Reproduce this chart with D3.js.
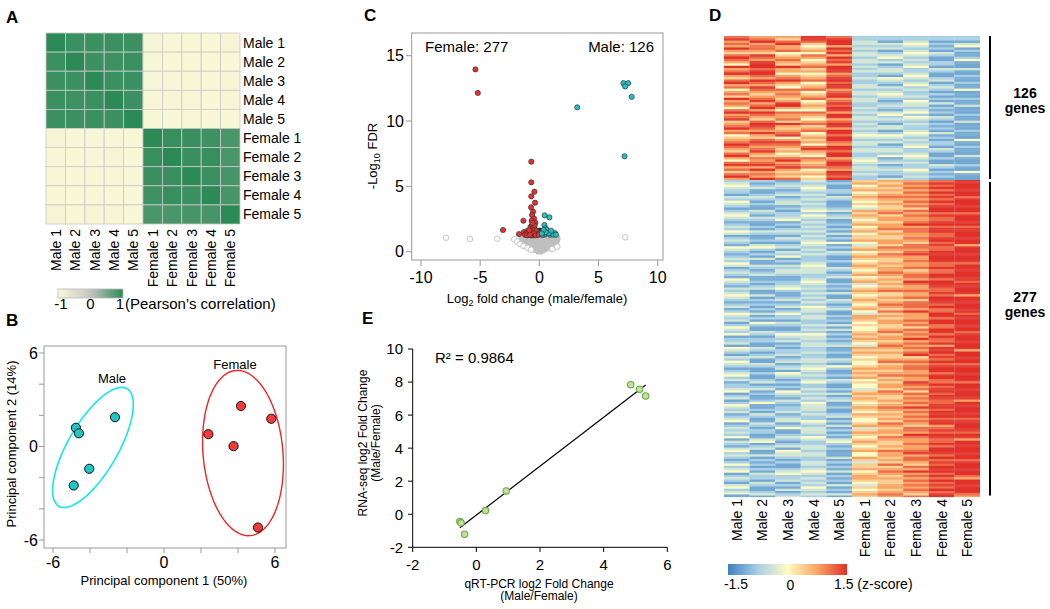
<!DOCTYPE html>
<html><head><meta charset="utf-8">
<script src="https://cdn.jsdelivr.net/npm/d3@7"></script>
<style>
body{margin:0;background:#fff;}
svg{display:block;font-family:"Liberation Sans",Arial,sans-serif;}
</style></head>
<body>
<svg id="fig" width="1050" height="609"></svg>
<script>
// ---------------- DATA ----------------
const samples = ["Male 1","Male 2","Male 3","Male 4","Male 5","Female 1","Female 2","Female 3","Female 4","Female 5"];

// Panel A: Pearson correlation matrix
const corr = [
 [1.00,0.90,0.90,0.90,0.89,-0.93,-0.95,-0.96,-0.97,-0.90],
 [0.90,1.00,0.89,0.88,0.90,-0.96,-0.96,-0.97,-0.97,-0.96],
 [0.90,0.89,1.00,0.90,0.90,-0.94,-0.95,-0.96,-0.97,-0.92],
 [0.90,0.88,0.90,1.00,0.89,-0.94,-0.93,-0.95,-0.96,-0.92],
 [0.89,0.90,0.90,0.89,1.00,-0.97,-0.97,-0.97,-0.97,-0.96],
 [-0.93,-0.96,-0.94,-0.94,-0.97,1.00,0.92,0.91,0.88,0.80],
 [-0.95,-0.96,-0.95,-0.93,-0.97,0.92,1.00,0.91,0.92,0.80],
 [-0.96,-0.97,-0.96,-0.95,-0.97,0.91,0.91,1.00,0.90,0.82],
 [-0.97,-0.97,-0.97,-0.96,-0.97,0.88,0.92,0.90,1.00,0.82],
 [-0.90,-0.96,-0.92,-0.92,-0.96,0.80,0.80,0.82,0.82,1.00]
];
const corrTicks = [-1,0,1];

// Panel B: PCA
const pcaMaleX = [-4.76,-4.60,-2.65,-4.04,-4.88];
const pcaMaleY = [1.20,0.85,1.88,-1.43,-2.50];
const pcaFemaleX = [2.40,4.16,5.80,3.76,5.08];
const pcaFemaleY = [0.79,2.60,1.78,0.02,-5.20];
// ellipse: centre, axis vectors (data units)
const maleEllipse = {cx:-3.84, cy:-0.06, ax:1.84, ay:3.77, bx:1.17, by:-0.80};
const femaleEllipse = {cx:4.27, cy:-0.42, ax:-0.39, ay:5.30, bx:2.15, by:0.22};
const pcaTicks = [-6,-4,-2,0,2,4,6];
const pcaLabelTicks = [-6,0,6];

// Panel C: volcano
const volcanoRed = [[-5.4,13.95],[-5.2,12.15],[-3.07,1.66],[-1.72,1.35],[-1.35,2.37],[-0.68,6.89],[-0.68,5.31],[-0.42,4.59],[-0.68,4.24],[-0.36,3.75],[-0.70,3.40],[-0.53,3.06],[-0.62,2.81],[-0.45,2.55],[-0.65,2.37],[-0.34,2.22],
 [-1.3,1.5],[-1.15,1.35],[-1.0,1.6],[-0.9,1.3],[-0.8,1.45],[-0.7,1.7],[-0.6,1.35],[-0.5,1.55],[-0.4,1.3],[-0.3,1.45],[-0.2,1.3],[-0.1,1.5],[-1.2,1.3],[-0.95,1.45],[-0.75,1.9],[-0.6,2.05],[-0.5,1.85],[-0.4,2.0],[-0.65,1.55],[-0.55,1.25],[-0.85,1.65],[-1.05,1.25],[-0.35,1.7],[-0.25,1.6],[-0.15,1.35],[-0.7,1.25],[-0.45,1.4],[-0.58,2.2],[-0.8,1.3],[-0.3,1.25],[-0.05,1.3]];
const volcanoCyan = [[3.2,11.05],[7.1,12.9],[7.5,12.9],[7.25,12.65],[7.8,11.85],[7.2,7.3],[0.45,2.78],[0.85,2.63],[0.43,2.04],[0.51,1.79],[0.3,1.5],[0.5,1.35],[0.7,1.55],[0.9,1.3],[1.1,1.45],[1.33,1.41],[1.2,1.3],[0.6,1.7],[0.4,1.3],[0.8,1.4],[1.0,1.6],[0.25,1.3],[0.55,1.5],[1.4,1.3],[0.35,1.65],[0.2,1.4]];
const volcanoBlack = [[0.0,1.38],[0.12,1.52],[-0.12,1.45],[0.22,1.32],[0.05,1.62]];
const volcanoGray = [
 [-0.1,0],[0.15,0],
 [-0.5,0.12],[-0.2,0.12],[0.1,0.12],[0.4,0.12],
 [-0.9,0.25],[-0.6,0.25],[-0.3,0.25],[0,0.25],[0.3,0.25],[0.6,0.25],[0.9,0.25],
 [-1.15,0.4],[-0.85,0.4],[-0.55,0.4],[-0.25,0.4],[0.05,0.4],[0.35,0.4],[0.65,0.4],[0.95,0.4],[1.2,0.4],
 [-1.3,0.55],[-1.0,0.55],[-0.7,0.55],[-0.4,0.55],[-0.1,0.55],[0.2,0.55],[0.5,0.55],[0.8,0.55],[1.1,0.55],[1.35,0.55],
 [-1.4,0.7],[-1.1,0.7],[-0.8,0.7],[-0.5,0.7],[-0.2,0.7],[0.1,0.7],[0.4,0.7],[0.7,0.7],[1.0,0.7],[1.3,0.7],[1.45,0.7],
 [-1.45,0.85],[-1.15,0.85],[-0.85,0.85],[-0.55,0.85],[-0.25,0.85],[0.05,0.85],[0.35,0.85],[0.65,0.85],[0.95,0.85],[1.25,0.85],[1.5,0.85],
 [-1.5,1.0],[-1.2,1.0],[-0.9,1.0],[-0.6,1.0],[-0.3,1.0],[0,1.0],[0.3,1.0],[0.6,1.0],[0.9,1.0],[1.2,1.0],[1.55,1.0],
 [-1.45,1.15],[-1.15,1.15],[-0.85,1.15],[-0.55,1.15],[-0.25,1.15],[0.05,1.15],[0.35,1.15],[0.65,1.15],[0.95,1.15],[1.25,1.15],[1.5,1.15],
 [-1.3,1.25],[-1.0,1.25],[-0.7,1.25],[-0.4,1.25],[-0.1,1.25],[0.2,1.25],[0.5,1.25],[0.8,1.25],[1.1,1.25],[1.3,1.25]];
const volcanoOpen = [[-7.89,1.07],[-5.86,0.97],[-3.55,1.0],[-2.14,0.95],[-1.86,0.77],[-1.63,0.59],[-1.35,0.44],[-1.0,0.3],[1.52,0.38],[7.25,1.1],[-0.7,0.15],[1.1,0.2]];
const volcanoXTicks = [-10,-5,0,5,10];
const volcanoYTicks = [0,5,10,15];

// Panel D: z-score heatmap, digit d -> z = (d-4)*0.375
const maleGeneCount = 126, femaleGeneCount = 277;
const heatTop = [
"7788667766 8866557788 7766448866 7788665577 8866774466 7755886677 6644778866 7788556677 8866774455 6677887766 5577886644 7788667755 778866",
"6677886677 7766558877 6688888877 8888776688 7766887766 5566778866 7788668877 6655778888 7766886655 7788776677 8866557766 7788668866 776688",
"6655778866 6677445566 7766558866 6644667788 6655447766 7766556688 8866447766 6677558866 5566778844 6688776655 6644557788 6677886655 665577",
"8888775544 5566447766 4455667755 6644556677 4455667744 5566774455 6655447766 5544667755 6677445566 5566447788 6655447766 5566774455 664455",
"7788888866 8877886688 7788668888 8866778888 7788886677 8888667788 7788886688 8866778888 6688887788 8877668888 7788886677 8888776688 887788",
"2222333322 3322333322 3333223322 3322223322 2233332233 3322333322 2233223322 3333223322 3322334433 2233332233 3322223344 3322333322 332222",
"2222113322 3311223344 2233112233 3322114433 2211332233 4433221122 3322113344 2233221133 3311224433 2233112233 3322441122 3311223322 221133",
"2222334433 2233443322 3322334422 2233443322 3344223322 2233224433 3322334422 4433223322 2233443322 3322334422 2233443322 3322224433 223322",
"2222112211 2211332211 1122221133 2211112233 1122332211 2211221133 1122112211 3322112211 2211331122 1122221133 2211112211 1133221122 112211",
"2222113344 1122111122 4411111133 1111221111 2211114411 1111221111 3311111122 1111331111 1122111111 4411112211 1111331111 1122111144 111111"
];
const heatBottom = [
"2233443322 2211332244 3322112233 4433221122 3322443311 2233221144 3322112233 2244331122 3322114433 2211332233 4433221122 3311224433 2233112244 3322441122 2233114433 2211332244 3322112233 4422331122 2233441122 3311224433 2233112233 4411223322 3322441133 2211334422 3322112244 2233441122 3322113344 2233411",
"2211223311 1122332211 2211113322 1133221111 2211332211 1122113344 2211221133 1111332211 2233111122 1122331111 3311221122 1122113311 2211442211 1133221122 2211113322 1122331111 3322111122 1111223311 2233112211 1122441111 2211332211 1133221122 2211113344 1122331111 3311221122 1122113322 2211332211 1122331",
"1122332211 2233112233 3311221122 2233441122 1122332211 3322112233 1133224411 2211332233 3322111122 2233442211 1122331122 3311224422 2211332211 1122443322 3311221122 2233112233 1122331144 3322112211 2211443322 1133221122 2233112233 3311224411 1122332211 2233114433 3322112211 1122334422 2233112211 3311223",
"3322334433 2233223322 3322334422 4433223322 3322332233 2233443322 3322332222 2233443333 3322223344 3322332233 2233223322 4433332233 3322223322 3322443333 2233332222 3322223333 2233443322 3322334422 2233223322 3322443333 3322332222 4433223333 3322443322 2233332233 3322223333 2233443322 3322332244 3322332",
"1122111122 2211332211 1111223311 2233111122 1122113311 2211441122 1133221111 2211113322 1122331111 2211221133 1111332211 2233111122 1122113311 3311221122 1122331111 2211113322 1144221111 2211332211 1122113311 2233111122 1111223311 2211331122 1122113344 2211221111 1133112211 2211331122 1122113311 2211331",
"5566445566 4455665544 5544336655 6655445566 4455664455 5566443355 6644556655 4455665544 5566445566 3344556655 4455665544 5566443366 6655445544 4455665566 5544336655 6655445544 4455665566 5566445544 4433556655 6655445566 5544665544 4455663355 6655445566 5544556644 4466553355 5566445566 6655443355 4455665",
"6655665566 5566776655 6655556677 5566665566 6677556655 5566665577 6655776655 5566556666 7766556655 6655667755 5566556677 6655775566 5566665555 6677556666 5566776655 6655556677 5566665566 7755665566 6655776655 5566556677 6655665566 5577665566 6655776655 5566557766 6655665577 5566776655 6655556666 5566776",
"6677667766 7766776677 6677557766 7766667788 6677776666 7766557777 6677886666 7766667755 6677776688 7766667766 6677557777 7766886666 6677667755 7766776688 6677667766 7788556677 6677776666 7766668877 6677557766 7766776688 6677667766 7766557777 6688776666 7766667788 6677776655 7766886677 6677667766 7766557",
"7788778877 8877887788 7788888877 8877778888 7788887777 8888778877 7788888888 8877778877 7788887788 8888777788 7788888877 8877778888 7788887777 8888778877 7788668888 8877887788 7788888877 8888777788 7788887788 8877778888 7788888877 8888667788 7788887777 8877888888 7788778877 8888887788 7788778877 8877888",
"8888888888 8888778888 8888888877 8888888888 7788888888 8888886688 8888888888 8877888888 8888888877 8888888888 6688888888 8888887788 8888888888 8877888888 8888888866 8888888888 7788888888 8888887788 8888888888 8866888888 8888888877 8888888888 7788886688 8888888888 8888778888 8888888877 6688888888 8888776"
];
const zTicks = [-1.5,0,1.5];

// Panel E: validation
const qpcrFC = [-0.52,-0.48,-0.37,0.29,0.94,4.85,5.13,5.32];
const rnaseqFC = [-0.44,-0.52,-1.21,0.22,1.41,7.84,7.57,7.16];
const eXTicks = [-2,0,2,4,6];
const eYTicks = [-2,0,2,4,6,8,10];

// ---------------- DRAW ----------------
const svg = d3.select("#fig");
const defs = svg.append("defs");

function panelLetter(t,x,y){svg.append("text").attr("x",x).attr("y",y).attr("font-size",17).attr("font-weight","bold").text(t);}
panelLetter("A",6,23); panelLetter("B",6,326); panelLetter("C",364,21); panelLetter("D",709,21); panelLetter("E",362,324);

// ===== Panel A =====
(function(){
 const x = d3.scaleBand().domain(samples).range([46,240]);
 const y = d3.scaleBand().domain(samples).range([33,224]);
 const col = d3.scaleLinear().domain([-1,0,1]).range(["#fafad8","#c4c4c4","#2b8a55"]);
 const g = svg.append("g");
 const cells = [];
 corr.forEach((row,i)=>row.forEach((v,j)=>cells.push({r:samples[i],c:samples[j],v})));
 g.selectAll("rect").data(cells).join("rect")
  .attr("x",d=>x(d.c)).attr("y",d=>y(d.r)).attr("width",x.bandwidth()).attr("height",y.bandwidth())
  .attr("fill",d=>col(d.v)).attr("stroke","#c9c9c9").attr("stroke-width",0.8);
 g.selectAll("text.rl").data(samples).join("text").attr("class","rl")
  .attr("x",243).attr("y",d=>y(d)+y.bandwidth()/2).attr("dy","0.36em").attr("font-size",14).text(d=>d);
 g.selectAll("text.cl").data(samples).join("text").attr("class","cl")
  .attr("transform",d=>`translate(${x(d)+x.bandwidth()/2},229) rotate(-90)`)
  .attr("dy","0.36em").attr("text-anchor","end").attr("font-size",14).text(d=>d);
 const lg = defs.append("linearGradient").attr("id","gA");
 d3.range(0,1.001,0.1).forEach(t=>lg.append("stop").attr("offset",t).attr("stop-color",col(-1+2*t)));
 const cb = d3.scaleLinear().domain([-1,1]).range([61,120]);
 g.append("rect").attr("x",58).attr("y",289).attr("width",65).attr("height",9).attr("fill","url(#gA)").attr("stroke","#bbb").attr("stroke-width",0.8);
 g.selectAll("text.ct").data(corrTicks).join("text").attr("class","ct")
  .attr("x",d=>cb(d)).attr("y",309).attr("text-anchor","middle").attr("font-size",15).text(d=>d);
 g.append("text").attr("x",125).attr("y",309).attr("font-size",15).text("(Pearson’s correlation)");
})();

// ===== Panel B =====
(function(){
 const x = d3.scaleLinear().domain([-6,6]).range([53,275]);
 const y = d3.scaleLinear().domain([-6,6]).range([540,353]);
 const g = svg.append("g");
 g.append("rect").attr("x",44).attr("y",346).attr("width",242).attr("height",202).attr("fill","none").attr("stroke","#999").attr("stroke-width",1);
 g.selectAll("line.xt").data(pcaTicks).join("line").attr("class","xt")
  .attr("x1",d=>x(d)).attr("x2",d=>x(d)).attr("y1",548).attr("y2",553).attr("stroke","#999");
 g.selectAll("line.yt").data(pcaTicks).join("line").attr("class","yt")
  .attr("y1",d=>y(d)).attr("y2",d=>y(d)).attr("x1",44).attr("x2",39).attr("stroke","#999");
 g.selectAll("text.xl").data(pcaLabelTicks).join("text").attr("class","xl")
  .attr("x",d=>x(d)).attr("y",568).attr("text-anchor","middle").attr("font-size",16).text(d=>d);
 g.selectAll("text.yl").data(pcaLabelTicks).join("text").attr("class","yl")
  .attr("x",38).attr("y",d=>y(d)).attr("dy","0.36em").attr("text-anchor","end").attr("font-size",16).text(d=>d);
 g.append("text").attr("x",164).attr("y",585).attr("text-anchor","middle").attr("font-size",13).text("Principal component 1 (50%)");
 g.append("text").attr("transform","translate(16,444) rotate(-90)").attr("text-anchor","middle").attr("font-size",13).text("Principal component 2 (14%)");
 function ell(e){
  const pts = d3.range(0,2*Math.PI+0.01,Math.PI/60).map(t=>[x(e.cx+e.ax*Math.cos(t)+e.bx*Math.sin(t)), y(e.cy+e.ay*Math.cos(t)+e.by*Math.sin(t))]);
  return d3.line()(pts)+"Z";
 }
 g.append("path").attr("d",ell(maleEllipse)).attr("fill","none").attr("stroke","#12e6ee").attr("stroke-width",1.6);
 g.append("path").attr("d",ell(femaleEllipse)).attr("fill","none").attr("stroke","#f02424").attr("stroke-width",1.4);
 g.selectAll("circle.m").data(pcaMaleX).join("circle").attr("class","m")
  .attr("cx",d=>x(d)).attr("cy",(d,i)=>y(pcaMaleY[i])).attr("r",4.6).attr("fill","#1fc6c6").attr("stroke","#111").attr("stroke-width",1);
 g.selectAll("circle.f").data(pcaFemaleX).join("circle").attr("class","f")
  .attr("cx",d=>x(d)).attr("cy",(d,i)=>y(pcaFemaleY[i])).attr("r",4.6).attr("fill","#f23a3a").attr("stroke","#111").attr("stroke-width",1);
 g.append("text").attr("x",112).attr("y",383).attr("text-anchor","middle").attr("font-size",13).text("Male");
 g.append("text").attr("x",235).attr("y",369).attr("text-anchor","middle").attr("font-size",13).text("Female");
})();

// ===== Panel C =====
(function(){
 const x = d3.scaleLinear().domain([-10,10]).range([421,657.7]);
 const y = d3.scaleLinear().domain([0,15]).range([251.7,55.7]);
 const g = svg.append("g");
 g.append("rect").attr("x",411.7).attr("y",33).attr("width",251.3).attr("height",227).attr("fill","none").attr("stroke","#999").attr("stroke-width",1);
 g.selectAll("line.xt").data(volcanoXTicks).join("line").attr("class","xt")
  .attr("x1",d=>x(d)).attr("x2",d=>x(d)).attr("y1",260).attr("y2",266).attr("stroke","#999");
 g.selectAll("line.yt").data(volcanoYTicks).join("line").attr("class","yt")
  .attr("y1",d=>y(d)).attr("y2",d=>y(d)).attr("x1",411.7).attr("x2",406).attr("stroke","#999");
 g.selectAll("text.xl").data(volcanoXTicks).join("text").attr("class","xl")
  .attr("x",d=>x(d)).attr("y",283).attr("text-anchor","middle").attr("font-size",16).text(d=>d);
 g.selectAll("text.yl").data(volcanoYTicks).join("text").attr("class","yl")
  .attr("x",404).attr("y",d=>y(d)).attr("dy","0.36em").attr("text-anchor","end").attr("font-size",16).text(d=>d);
 const xl = g.append("text").attr("x",537).attr("y",303).attr("text-anchor","middle").attr("font-size",13);
 xl.append("tspan").text("Log");
 xl.append("tspan").attr("font-size",9).attr("dy",3).text("2");
 xl.append("tspan").attr("dy",-3).text(" fold change (male/female)");
 const yl = g.append("text").attr("transform","translate(377,156) rotate(-90)").attr("text-anchor","middle").attr("font-size",13);
 yl.append("tspan").text("-Log");
 yl.append("tspan").attr("font-size",9).attr("dy",3).text("10");
 yl.append("tspan").attr("dy",-3).text(" FDR");
 g.append("text").attr("x",425).attr("y",52).attr("font-size",15).text("Female: 277");
 g.append("text").attr("x",654).attr("y",52).attr("text-anchor","end").attr("font-size",15).text("Male: 126");
 g.selectAll("circle.gr").data(volcanoGray).join("circle").attr("class","gr")
  .attr("cx",d=>x(d[0])).attr("cy",d=>y(d[1])).attr("r",2.6).attr("fill","#c2c2c2").attr("stroke","#bbbbbb").attr("stroke-width",0.6);
 g.selectAll("circle.op").data(volcanoOpen).join("circle").attr("class","op")
  .attr("cx",d=>x(d[0])).attr("cy",d=>y(d[1])).attr("r",2.8).attr("fill","#fff").attr("stroke","#c6c6c6").attr("stroke-width",1);
 const pt = (cls,data,fill)=>g.selectAll("circle."+cls).data(data).join("circle").attr("class",cls)
  .attr("cx",d=>x(d[0])).attr("cy",d=>y(d[1])).attr("r",2.6).attr("fill",fill).attr("stroke","#333").attr("stroke-width",0.7);
 pt("bk",volcanoBlack,"#111");
 pt("rd",volcanoRed,"#e8302e");
 pt("cy",volcanoCyan,"#20c2c4");
})();

// ===== Panel D =====
(function(){
 const nRows = maleGeneCount + femaleGeneCount;
 const x = d3.scaleBand().domain(samples).range([724,980]);
 const y = d3.scaleBand().domain(d3.range(nRows)).range([36,496.7]);
 const col = d3.scaleLinear().domain([-1.5,-0.75,0,0.75,1.5]).range(["#3f80c1","#a7cfe4","#fcfcc4","#f9a463","#e1312a"]).clamp(true);
 const cells = [];
 samples.forEach((s,j)=>{
  const top = heatTop[j].replace(/\s/g,""), bot = heatBottom[j].replace(/\s/g,"");
  for(let i=0;i<nRows;i++){
   const ch = i<maleGeneCount ? (top[i]||top[top.length-1]) : (bot[i-maleGeneCount]||bot[bot.length-1]);
   cells.push({s,i,z:(+ch-4)*0.375});
  }
 });
 const g = svg.append("g");
 g.selectAll("rect").data(cells).join("rect")
  .attr("x",d=>x(d.s)).attr("y",d=>y(d.i)).attr("width",x.bandwidth()).attr("height",y.bandwidth()+0.4)
  .attr("fill",d=>col(d.z));
 g.selectAll("text.cl").data(samples).join("text").attr("class","cl")
  .attr("transform",d=>`translate(${x(d)+x.bandwidth()/2},499) rotate(-90)`)
  .attr("dy","0.36em").attr("text-anchor","end").attr("font-size",14).text(d=>d);
 g.append("line").attr("x1",990).attr("x2",990).attr("y1",y(0)).attr("y2",y(maleGeneCount-1)+y.bandwidth()-1).attr("stroke","#000").attr("stroke-width",2);
 g.append("line").attr("x1",990).attr("x2",990).attr("y1",y(maleGeneCount)+2).attr("y2",y(nRows-1)).attr("stroke","#000").attr("stroke-width",2);
 const lab = (t1,t2,yy)=>{
  g.append("text").attr("x",1025).attr("y",yy).attr("text-anchor","middle").attr("font-size",14).attr("font-weight","bold").text(t1);
  g.append("text").attr("x",1025).attr("y",yy+15).attr("text-anchor","middle").attr("font-size",14).attr("font-weight","bold").text(t2);
 };
 lab(String(maleGeneCount),"genes",98);
 lab(String(femaleGeneCount),"genes",302);
 const lg = defs.append("linearGradient").attr("id","gD");
 d3.range(0,1.001,0.05).forEach(t=>lg.append("stop").attr("offset",t).attr("stop-color",col(-1.5+3*t)));
 g.append("rect").attr("x",728).attr("y",564).attr("width",119).attr("height",11).attr("fill","url(#gD)");
 const cb = d3.scaleLinear().domain([-1.5,1.5]).range([736,845]);
 g.append("text").attr("x",cb(zTicks[0])).attr("y",589).attr("text-anchor","middle").attr("font-size",14).text("-1.5");
 g.append("text").attr("x",cb(zTicks[1])).attr("y",590).attr("text-anchor","middle").attr("font-size",14).text("0");
 g.append("text").attr("x",cb(zTicks[2])-11).attr("y",589).attr("font-size",14).text("1.5 (z-score)");
})();

// ===== Panel E =====
(function(){
 const x = d3.scaleLinear().domain([-2,6]).range([412.7,667.3]);
 const y = d3.scaleLinear().domain([-2,10]).range([547.3,349]);
 const g = svg.append("g");
 g.append("line").attr("x1",412.7).attr("x2",412.7).attr("y1",349).attr("y2",547.3).attr("stroke","#000");
 g.append("line").attr("x1",412.7).attr("x2",667.3).attr("y1",547.3).attr("y2",547.3).attr("stroke","#000");
 g.selectAll("line.yt").data(eYTicks).join("line").attr("class","yt")
  .attr("x1",412.7).attr("x2",408).attr("y1",d=>y(d)).attr("y2",d=>y(d)).attr("stroke","#000");
 g.selectAll("line.xt").data(eXTicks).join("line").attr("class","xt")
  .attr("y1",547.3).attr("y2",552).attr("x1",d=>x(d)).attr("x2",d=>x(d)).attr("stroke","#000");
 g.selectAll("text.yl").data(eYTicks).join("text").attr("class","yl")
  .attr("x",403).attr("y",d=>y(d)).attr("dy","0.36em").attr("text-anchor","end").attr("font-size",15).text(d=>d);
 g.selectAll("text.xl").data(eXTicks).join("text").attr("class","xl")
  .attr("x",d=>x(d)).attr("y",570).attr("text-anchor","middle").attr("font-size",15).text(d=>d);
 const mx = d3.mean(qpcrFC), my = d3.mean(rnaseqFC);
 const sxy = d3.sum(qpcrFC,(v,i)=>(v-mx)*(rnaseqFC[i]-my)), sxx = d3.sum(qpcrFC,v=>(v-mx)*(v-mx));
 const b = sxy/sxx, a = my-b*mx;
 const [x0,x1] = d3.extent(qpcrFC);
 g.append("line").attr("x1",x(x0)).attr("y1",y(a+b*x0)).attr("x2",x(x1)).attr("y2",y(a+b*x1)).attr("stroke","#000").attr("stroke-width",1.2);
 g.selectAll("circle").data(qpcrFC).join("circle")
  .attr("cx",d=>x(d)).attr("cy",(d,i)=>y(rnaseqFC[i])).attr("r",3.2)
  .attr("fill","#c3df9f").attr("stroke","#6aa843").attr("stroke-width",1.1);
 g.append("text").attr("x",435).attr("y",363).attr("font-size",15).text("R² = 0.9864");
 g.append("text").attr("x",539).attr("y",588).attr("text-anchor","middle").attr("font-size",12).text("qRT-PCR log2 Fold Change");
 g.append("text").attr("x",539).attr("y",600).attr("text-anchor","middle").attr("font-size",12).text("(Male/Female)");
 g.append("text").attr("transform","translate(367,443) rotate(-90)").attr("text-anchor","middle").attr("font-size",12).text("RNA-seq log2 Fold Change");
 g.append("text").attr("transform","translate(380,443) rotate(-90)").attr("text-anchor","middle").attr("font-size",12).text("(Male/Female)");
})();
</script>
</body></html>
